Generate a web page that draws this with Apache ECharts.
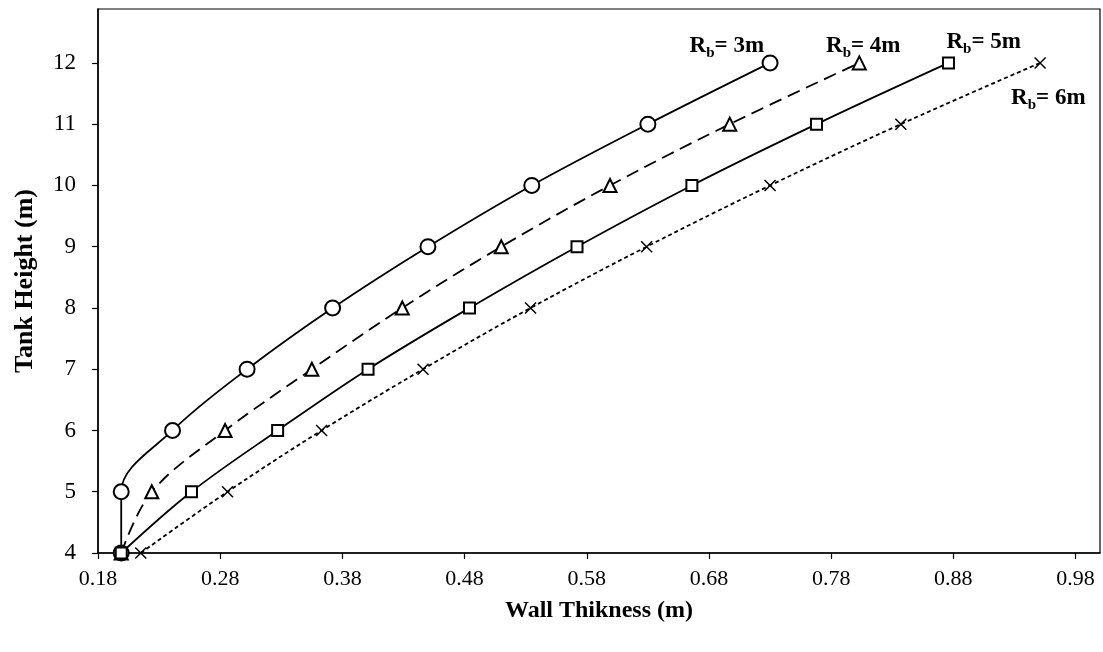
<!DOCTYPE html>
<html>
<head>
<meta charset="utf-8">
<script src="https://cdn.jsdelivr.net/npm/echarts@6/dist/echarts.min.js"></script>
<style>html,body{margin:0;padding:0;background:#fff}#c{width:1103px;height:652px}</style>
</head>
<body>
<div id="c"></div>
<script>
var heights = [4, 5, 6, 7, 8, 9, 10, 11, 12];
var r3 = [0.199, 0.199, 0.241, 0.302, 0.372, 0.450, 0.535, 0.630, 0.730];
var r4 = [0.199, 0.224, 0.284, 0.355, 0.429, 0.510, 0.599, 0.697, 0.803];
var r5 = [0.199, 0.2565, 0.327, 0.401, 0.484, 0.572, 0.666, 0.768, 0.876];
var r6 = [0.215, 0.286, 0.363, 0.446, 0.534, 0.629, 0.730, 0.837, 0.951];
var seriesNames = ['3m', '4m', '5m', '6m'];
var xTicks = [0.18, 0.28, 0.38, 0.48, 0.58, 0.68, 0.78, 0.88, 0.98];
var yTicks = [4, 5, 6, 7, 8, 9, 10, 11, 12];

var FONT = '"Liberation Serif", "Times New Roman", serif';
var rich = {
  R: {fontFamily: FONT, fontWeight: 'bold', fontSize: 23, lineHeight: 26, padding: [0, 0, 9, 0], verticalAlign: 'top', color: '#000'},
  b: {fontFamily: FONT, fontWeight: 'bold', fontSize: 15, lineHeight: 17, verticalAlign: 'bottom', color: '#000'},
  t: {fontFamily: FONT, fontWeight: 'bold', fontSize: 23, lineHeight: 26, padding: [0, 0, 9, 0], verticalAlign: 'top', color: '#000'}
};

function build(xs, labelCfg) {
  return xs.map(function (x, i) {
    var item = {value: [x, heights[i]]};
    if (i === xs.length - 1) {
      item.label = Object.assign({
        show: true,
        position: 'inside',
        formatter: labelCfg.text,
        rich: rich
      }, labelCfg.style);
    }
    return item;
  });
}

var xSym = 'path://M0,0L10,10M10,0L0,10';

var series = [
  {
    name: seriesNames[0], type: 'line', smooth: 0.35,
    data: build(r3, {text: '{R|R}{b|b}{t|= ' + seriesNames[0] + '}', style: {align: 'right', verticalAlign: 'bottom', offset: [-6, -2]}}),
    symbol: 'emptyCircle', symbolSize: 15,
    lineStyle: {color: '#000', width: 1.8, type: 'solid'},
    itemStyle: {color: '#000', borderColor: '#000', borderWidth: 1.5}
  },
  {
    name: seriesNames[1], type: 'line', smooth: 0.35,
    data: build(r4, {text: '{R|R}{b|b}{t|= ' + seriesNames[1] + '}', style: {align: 'center', verticalAlign: 'bottom', offset: [4, -2]}}),
    symbol: 'emptyTriangle', symbolSize: 13,
    lineStyle: {color: '#000', width: 1.8, type: [13, 7]},
    itemStyle: {color: '#000', borderColor: '#000', borderWidth: 1.5}
  },
  {
    name: seriesNames[2], type: 'line', smooth: 0.35,
    data: build(r5, {text: '{R|R}{b|b}{t|= ' + seriesNames[2] + '}', style: {align: 'left', verticalAlign: 'bottom', offset: [-2, -6]}}),
    symbol: 'emptyRect', symbolSize: 11,
    lineStyle: {color: '#000', width: 1.8, type: 'solid'},
    itemStyle: {color: '#000', borderColor: '#000', borderWidth: 1.5}
  },
  {
    name: seriesNames[3], type: 'line', smooth: 0.35,
    data: build(r6, {text: '{R|R}{b|b}{t|= ' + seriesNames[3] + '}', style: {align: 'left', verticalAlign: 'top', offset: [-29, 24]}}),
    symbol: xSym, symbolSize: 11,
    lineStyle: {color: '#000', width: 1.8, type: [4, 3]},
    itemStyle: {color: 'none', borderColor: '#000', borderWidth: 1.5}
  }
];

var chart = echarts.init(document.getElementById('c'), null, {renderer: 'canvas'});
chart.setOption({
  backgroundColor: '#fff',
  animation: false,
  grid: {left: 98, right: 3, top: 9, bottom: 99, show: true, borderColor: '#000', borderWidth: 1.2, backgroundColor: 'transparent'},
  xAxis: {
    type: 'value', min: 0.18, max: 1.0,
    name: 'Wall Thikness (m)', nameLocation: 'middle', nameGap: 46,
    nameTextStyle: {fontFamily: FONT, fontWeight: 'bold', fontSize: 24, color: '#000'},
    axisLine: {show: true, onZero: false, lineStyle: {color: '#000', width: 1.5}},
    axisTick: {show: true, inside: false, length: 6, customValues: xTicks, lineStyle: {color: '#000', width: 1.2}},
    axisLabel: {customValues: xTicks, margin: 15, fontFamily: FONT, fontSize: 22, color: '#000',
      formatter: function (v) { return v.toFixed(2); }},
    splitLine: {show: false}
  },
  yAxis: {
    type: 'value', min: 4, max: 12.88,
    name: 'Tank Height (m)', nameLocation: 'middle', nameGap: 60,
    nameTextStyle: {fontFamily: FONT, fontWeight: 'bold', fontSize: 26, color: '#000'},
    axisLine: {show: true, onZero: false, lineStyle: {color: '#000', width: 1.5}},
    axisTick: {show: true, inside: false, length: 6, customValues: yTicks, lineStyle: {color: '#000', width: 1.2}},
    axisLabel: {customValues: yTicks, margin: 22, fontFamily: FONT, fontSize: 23, color: '#000',
      formatter: function (v) { return String(Math.round(v)); }},
    splitLine: {show: false}
  },
  series: series
});
</script>
</body>
</html>
